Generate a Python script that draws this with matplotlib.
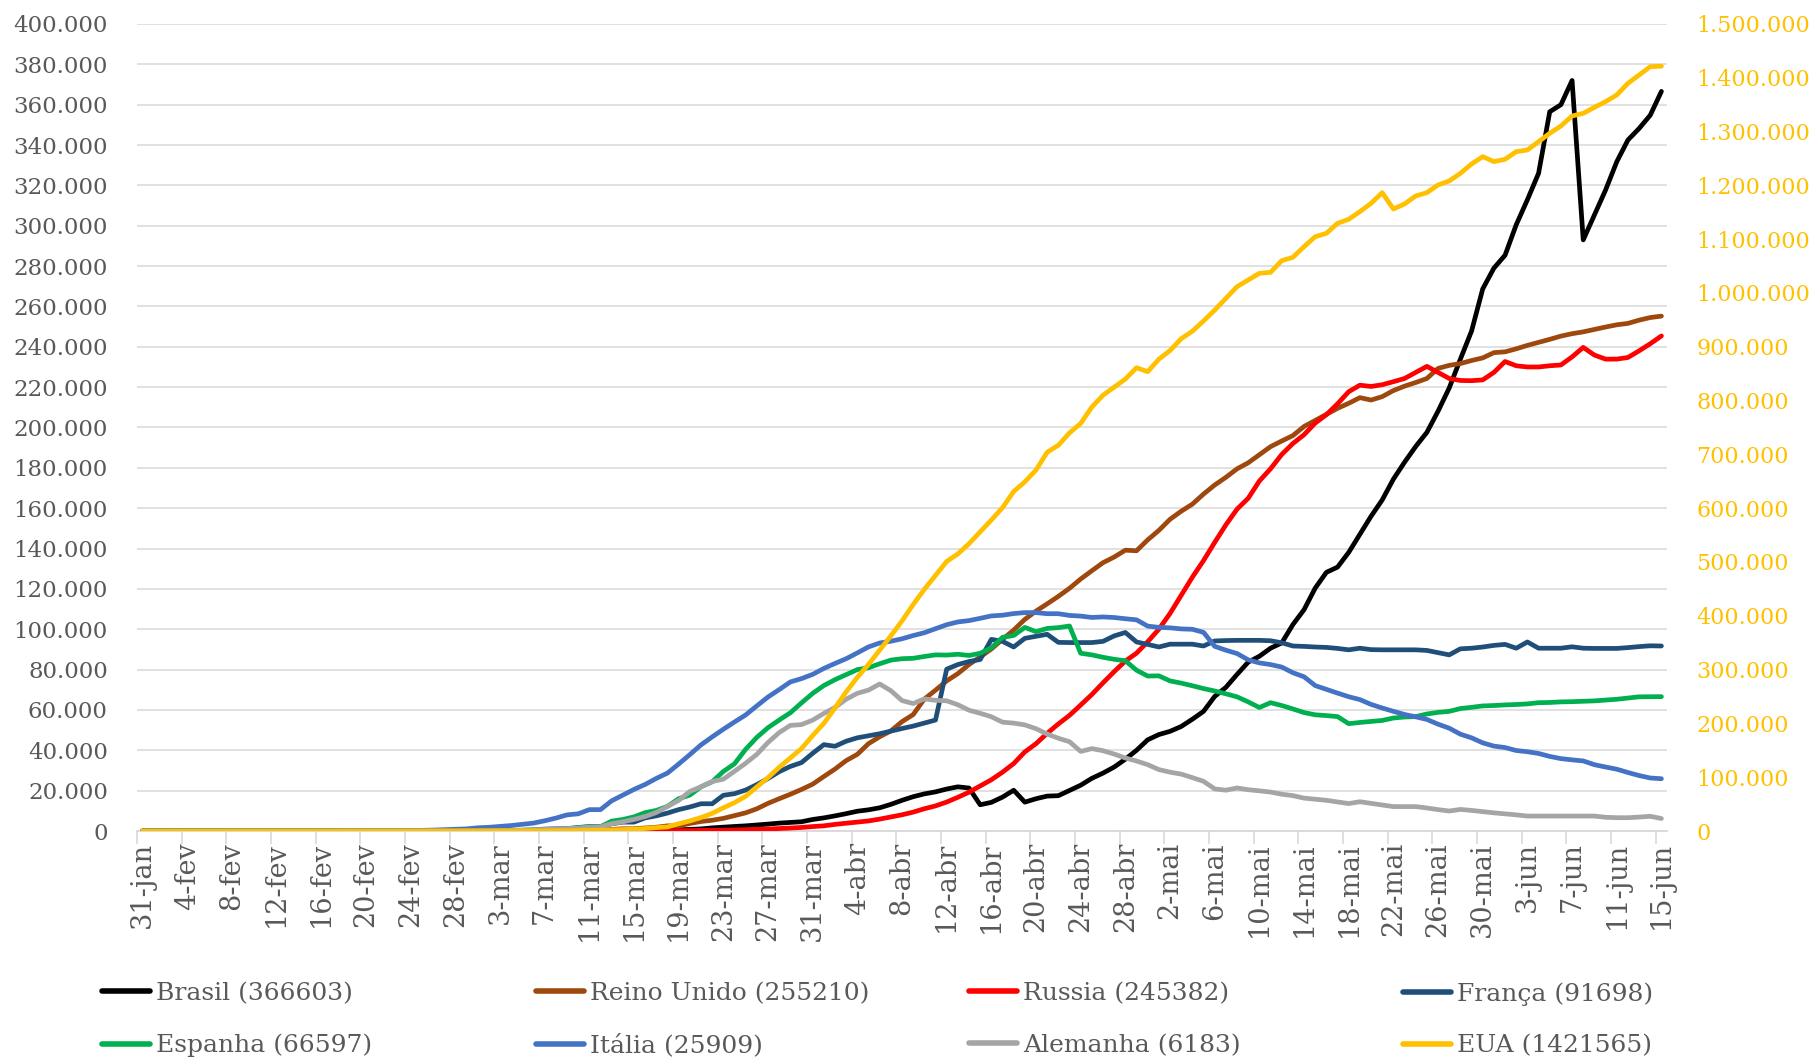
import matplotlib
matplotlib.use("Agg")
import matplotlib.pyplot as plt
from matplotlib.ticker import FuncFormatter
import numpy as np

plt.rcParams['font.family'] = ['DejaVu Serif', 'DejaVu Sans']

# ---- categories (31-jan .. 15-jun, daily) ----
tick_labels = ['31-jan', '4-fev', '8-fev', '12-fev', '16-fev', '20-fev', '24-fev', '28-fev',
               '3-mar', '7-mar', '11-mar', '15-mar', '19-mar', '23-mar', '27-mar', '31-mar',
               '4-abr', '8-abr', '12-abr', '16-abr', '20-abr', '24-abr', '28-abr',
               '2-mai', '6-mai', '10-mai', '14-mai', '18-mai', '22-mai', '26-mai', '30-mai',
               '3-jun', '7-jun', '11-jun', '15-jun']

# ---- series (active cases), one value per day ----
brasil = [0,0,0,0,0,0,0,0,0,0, 0,0,0,0,0,0,0,0,0,0, 0,0,0,0,0,0,1,1,1,2,
          2,2,2,4,4,13,13,20,25,31, 38,52,151,151,162,200,321,372,621,793,
          1021,1546,1924,2247,2554,2985,3417,3904,4256,4579, 5717,
          6500,7500,8600,9800,10500,11500,13200,15200,17000,18400,
          19400,20800,21900,21300,13000,14200,16800,20200,14300,16000,
          17300,17500,20100,22700,26100,28700,31700,35600,40000,45200,
          47800,49400,51800,55400,59300,66700,71200,77600,83700,86600,
          90600,93200,102300,109700,120400,128200,130800,138100,147100,156000,
          164100,174400,182800,190600,197600,208100,219600,233900,247800,268700, 279000,
          285400,300500,312900,326000,356500,360000,372000,293000,305300,317700,
          331700,342500,348200,354800,366603]

reino_unido = [2,2,2,2,2,2,3,3,3,3, 8,8,9,9,9,9,9,9,9,9, 9,9,9,5,5,5,5,7,12,15,
               28,32,43,76,107,145,186,250,300,359, 434,434,772,1101,1101,1468,1875,2535,2532,3740,
               4720,5335,6250,7600,9000,11000,13700,16000,18200,20600, 23200,
               27000,30700,34900,38000,43300,46700,49600,54200,57700,65400,
               69800,74400,78000,82500,86300,90200,95000,99600,104900,109000,
               112600,116300,120300,124900,129000,133000,135800,139200,138900,144300,
               149000,154500,158500,162000,167000,171500,175300,179500,182500,186500,
               190500,193300,196000,200500,203500,206500,209500,212000,214800,213600,
               215300,218300,220500,222300,224300,229300,230800,231700,233200,234500, 237100,
               237500,239000,240700,242200,243700,245300,246500,247400,248600,249800,
               250900,251600,253200,254500,255210]

russia = [2,2,2,2,2,2,2,2,2,2, 2,2,0,0,0,0,0,0,0,0, 0,0,0,0,0,0,0,0,0,0,
          0,3,3,3,4,4,4,10,14,14, 18,25,25,52,58,85,107,139,190,244,
          294,351,420,472,626,799,987,1211,1462,1761, 2199,
          2563,3283,3834,4355,4989,5890,6945,8029,9357,11028,
          12433,14349,16710,19238,22306,25402,29145,33423,39201,43270,
          48434,53066,57327,62439,67657,73435,79007,84235,88141,93806,
          100042,107819,116768,125817,134054,143065,151732,159528,164933,173467,
          179534,186615,192056,196410,202199,206340,211748,217747,220974,220341,
          221200,222700,224300,227300,230300,227300,224300,223300,223200,223600, 227300,
          232700,230600,230000,230000,230600,231000,235000,239700,235900,233900,
          233900,234700,238000,241500,245382]

franca = [5,6,6,6,6,6,6,6,11,11, 11,11,11,7,7,7,6,6,6,6, 6,6,6,6,2,4,6,26,45,86,
          100,178,191,270,350,590,930,1100,1190,1730, 2200,2200,3600,4400,4400,6500,7500,8900,10600,11900,
          13500,13500,17700,18500,20300,23000,26000,29400,32000,33900, 38500,
          42800,42000,44500,46200,47200,48200,49500,50800,52000,53500,
          55000,80200,82500,84000,85000,95000,94000,91200,95500,96500,
          97500,93500,93400,93400,93400,94000,96700,98400,93700,92500,
          91200,92600,92600,92600,91700,94200,94400,94500,94500,94500,
          94300,93300,91700,91500,91200,91000,90500,89800,90600,89900,
          89800,89800,89800,89800,89500,88400,87300,90300,90600,91200, 92000,
          92500,90600,93700,90600,90600,90600,91300,90600,90500,90500,
          90500,90900,91400,91800,91698]

espanha = [0,1,1,1,1,1,1,1,1,2, 2,2,2,2,2,2,2,2,2,2, 2,2,2,2,4,11,13,13,30,43,
           82,118,160,220,280,360,480,650,1000,1600, 2100,2100,4900,5700,7000,9100,10200,12200,16000,17800,
           21900,24400,29500,33300,40500,46400,51200,55000,58600,63500, 68200,
           72100,75000,77500,80000,80900,82900,84700,85400,85600,86500,
           87300,87200,87600,87000,88100,90800,96000,96900,100900,98800,
           100400,100800,101600,88100,87300,86100,85100,84400,79700,76800,
           76900,74400,73300,72000,70600,69400,68000,66500,64000,61200,
           63600,62200,60500,58700,57600,57200,56700,53200,53800,54300,
           54800,56000,56500,56700,58000,58800,59300,60700,61300,62000, 62200,
           62500,62700,63000,63600,63700,64000,64100,64300,64500,64900,
           65300,65900,66500,66550,66597]

italia = [2,2,2,2,2,2,3,3,3,3, 3,3,3,3,3,3,3,3,3,3, 3,20,62,155,229,322,453,655,888,1049,
          1577,1835,2263,2706,3296,3916,5061,6387,7985,8514,
          10590,10590,14955,17750,20603,23073,26062,28710,33190,37860,
          42681,46638,50418,54030,57521,62013,66414,70065,73880,75528, 77635,
          80572,83049,85388,88274,91246,93187,94067,95262,96877,98273,
          100269,102253,103616,104291,105418,106607,106962,107771,108257,108237,
          107709,107699,106848,106527,105847,106103,105813,105205,104657,101551,
          100943,100704,100179,99980,98467,91528,89624,87961,84842,83324,
          82488,81266,78457,76440,72070,70187,68351,66553,65129,62752,
          60960,59322,57752,56594,55300,52942,50966,47986,46175,43691, 42075,
          41367,39893,39297,38429,36976,35877,35262,34730,32872,31710,
          30637,28997,27485,26274,25909]

alemanha = [5,8,8,8,10,12,12,13,13,14, 14,16,16,16,16,16,16,16,16,16, 2,2,2,2,2,2,11,32,32,63,
            114,143,180,246,466,653,781,1022,1156,1437,
            1880,2050,3622,4530,5738,7188,9166,12194,15163,19601,
            21896,24513,25690,29586,33570,37998,43871,48781,52351,52740, 54933,
            58252,61247,65309,68248,69839,72864,69566,64647,63167,65491,
            64772,64532,62578,59865,58349,56646,53931,53483,52598,50703,
            48058,45969,44254,39439,40836,39794,38132,36198,34672,32886,
            30441,29155,28198,26459,24632,20870,20220,21339,20455,19910,
            19298,18233,17537,16294,15739,15214,14396,13600,14500,13700,
            12900,12100,12100,12100,11400,10600,9900,10700,10200,9600, 9000,
            8500,8000,7400,7400,7400,7400,7400,7400,7400,6800,
            6600,6600,6900,7300,6183]

eua = [6,8,8,11,11,11,12,12,12,12, 12,13,13,14,14,14,14,14,14,14, 34,34,34,34,51,51,51,53,57,62,
       68,84,99,131,203,273,376,491,559,931,
       1216,1598,2117,2670,3416,4590,6320,7584,13500,18700,
       25000,32700,43100,52700,64500,81900,99200,118400,135800,153200, 177300,
       200000,228700,258600,285600,309700,336000,362600,390400,420900,449200,
       475000,501000,515000,534000,556000,578000,601000,631000,649000,671000,
       704000,717000,740000,757600,788000,810000,825000,840000,861100,853700,
       877000,893000,915000,929000,948000,968200,990000,1011800,1024200,1036600,
       1038400,1060100,1066300,1086100,1104700,1110900,1129500,1137000,1151200,1166700,
       1186500,1156200,1165500,1180400,1186500,1200800,1208200,1222500,1239800,1253500, 1244200,
       1248500,1262700,1265800,1281300,1296800,1310400,1329000,1334000,1345100,1355700,
       1368000,1389700,1405200,1420700,1421565]

names = ['Brasil', 'Reino Unido', 'Russia', 'França', 'Espanha', 'Itália', 'Alemanha', 'EUA']
colors = ['#000000', '#9E480E', '#FF0000', '#1F4E79', '#00B050', '#4472C4', '#A5A5A5', '#FFC000']
left_series = [brasil, reino_unido, russia, franca, espanha, italia, alemanha]

days = np.arange(len(brasil))

W, H = 1814, 1062
fig = plt.figure(figsize=(W / 100, H / 100), dpi=100)
ax = fig.add_axes([137 / W, 1 - 831 / H, (1667 - 137) / W, (831 - 24) / H])

grey_txt = '#595959'
grid_c = '#D9D9D9'

handles = []
for i, s in enumerate(left_series):
    h, = ax.plot(days, s, color=colors[i], lw=3.4, solid_capstyle='round',
                 solid_joinstyle='round', zorder=3 + i,
                 label=f"{names[i]} ({s[-1]})")
    handles.append(h)

ax.set_xlim(-0.5, len(days) - 0.5)
ax.set_ylim(0, 400000)
ax.set_yticks(np.arange(0, 400001, 20000))
fmt = FuncFormatter(lambda v, p: f"{int(round(v)):,}".replace(',', '.'))
ax.yaxis.set_major_formatter(fmt)
ax.yaxis.grid(True, color=grid_c, lw=1.1)
ax.set_axisbelow(True)
ax.tick_params(axis='y', length=0, pad=21, labelsize=16.5, labelcolor=grey_txt)

ax.set_xticks(np.arange(0, len(days), 4))
ax.set_xticklabels(tick_labels, rotation=90, fontsize=19.5, color=grey_txt)
ax.tick_params(axis='x', which='major', length=0, pad=8)
ax.set_xticks(np.arange(-0.5, len(days) - 1, 4), minor=True)
ax.tick_params(axis='x', which='minor', length=9, width=1.2, color=grid_c)

for sp in ['top', 'left', 'right']:
    ax.spines[sp].set_visible(False)
ax.spines['bottom'].set_color(grid_c)
ax.spines['bottom'].set_linewidth(1.3)

ax2 = ax.twinx()
h, = ax2.plot(days, eua, color=colors[7], lw=3.4, solid_capstyle='round',
              solid_joinstyle='round', label=f"EUA ({eua[-1]})")
handles.append(h)
ax2.set_ylim(0, 1500000)
ax2.set_yticks(np.arange(0, 1500001, 100000))
ax2.yaxis.set_major_formatter(fmt)
ax2.tick_params(axis='y', length=0, pad=21, labelsize=16, labelcolor='#FFC000')
for sp in ['top', 'left', 'right', 'bottom']:
    ax2.spines[sp].set_visible(False)

# legend: 4 evenly spaced columns, 2 rows (row-major order)
col_x = [102, 536, 969, 1403]
for c in range(4):
    hs = [handles[c], handles[c + 4]]
    leg = fig.legend(handles=hs, labels=[x.get_label() for x in hs], loc='upper left',
                     bbox_to_anchor=(col_x[c] / W, 1 - 982 / H), frameon=False,
                     fontsize=18, handlelength=1.9, handletextpad=0.25, labelspacing=1.15,
                     borderpad=0, borderaxespad=0, labelcolor=grey_txt)
    for lh in leg.get_lines():
        lh.set_linewidth(4.0)

fig.savefig('out.png', dpi=100, facecolor='white')
